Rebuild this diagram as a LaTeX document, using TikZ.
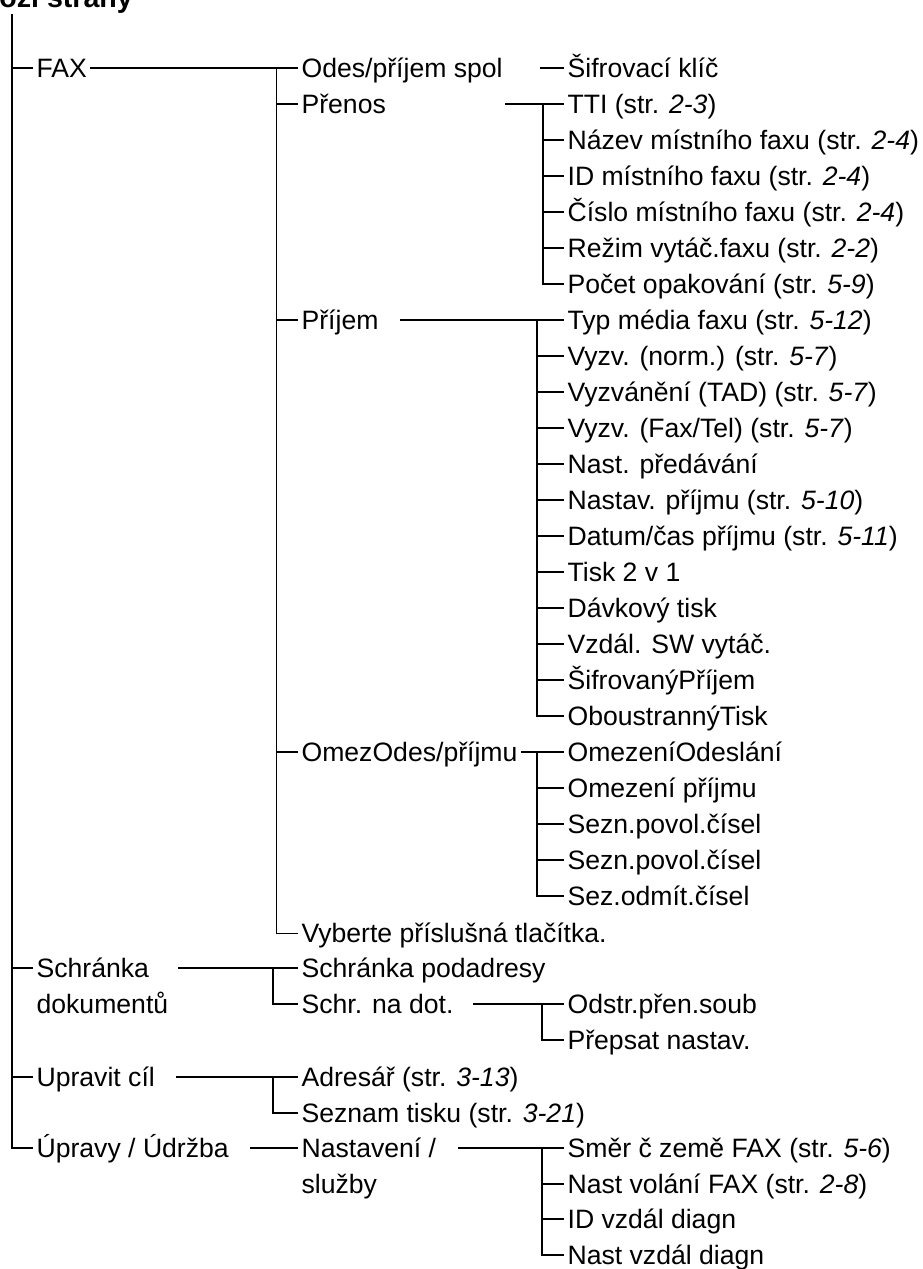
\documentclass[tikz,border=0pt]{standalone}
\usepackage{fontspec}
\setmainfont{Liberation Sans}
\tikzset{
  entry/.style={anchor=west, inner xsep=1.6pt, inner ysep=0pt,
    text height=9.5pt, text depth=0pt, font=\fontsize{13.3}{15.5}\selectfont},
  branch/.style={line width=1pt},
  twig/.style={line width=0.5pt},
}
\begin{document}
\begin{tikzpicture}[x=0.5pt,y=-0.5pt]
    \useasboundingbox (0,0) rectangle (922,1269);
    \clip (0,0) rectangle (922,1269);
    \node[anchor=base west, inner sep=0pt, font=\fontsize{14.3}{17}\selectfont\bfseries] (title) at (-1,8) {ozi strany};
    % first level
    \node[entry] (fax) at (33,68) {FAX};
    \node[entry] (schr) at (33,968) {Schránka};
    \node[entry] (dok) at (33,1004) {dokumentů};
    \node[entry] (upravit) at (33,1077) {Upravit cíl};
    \node[entry] (upravy) at (33,1148) {Úpravy / Údržba};
    \coordinate (root) at (12,14);
    \foreach \n in {fax,schr,upravit,upravy}
        \draw[branch] (root) |- (\n.west);
    % FAX
    \node[entry] (odes) at (298,68) {Odes/příjem spol};
    \node[entry] (prenos) at (298,104) {Přenos};
    \node[entry] (prijem) at (298,320) {Příjem};
    \node[entry] (omez) at (298,752) {OmezOdes/příjmu};
    \node[entry] (vyberte) at (298,933) {Vyberte příslušná tlačítka.};
    \draw[branch] (fax.east) -- (odes.west);
    \coordinate (faxj) at (276,68);
    \draw[twig] (faxj) |- (vyberte.west);
    \foreach \n in {prenos,prijem,omez}
        \draw[branch] (faxj |- \n.west) -- (\n.west);
    \node[entry] (sifr) at (564,68) {Šifrovací klíč};
    \coordinate (sifrs) at (540,68);
    \draw[branch] (sifrs) -- (sifr.west);
    % Prenos
    \foreach \t [count=\i from 0] in {TTI (str. \textit{2-3}), Název místního faxu (str. \textit{2-4}),
        ID místního faxu (str. \textit{2-4}), Číslo místního faxu (str. \textit{2-4}),
        Režim vytáč.faxu (str. \textit{2-2}), Počet opakování (str. \textit{5-9})}
        \node[entry] (pren\i) at (564,104+36*\i) {\t};
    \coordinate (prens) at (505,104);
    \coordinate (prenj) at (543,104);
    \draw[branch] (prens) -- (pren0.west);
    \foreach \i in {1,...,5}
        \draw[branch] (prenj) |- (pren\i.west);
    % Prijem
    \foreach \t [count=\i from 0] in {Typ média faxu (str. \textit{5-12}), Vyzv. (norm.) (str. \textit{5-7}),
        Vyzvánění (TAD) (str. \textit{5-7}), Vyzv. (Fax/Tel) (str. \textit{5-7}), Nast. předávání,
        Nastav. příjmu (str. \textit{5-10}), Datum/čas příjmu (str. \textit{5-11}), Tisk 2 v 1,
        Dávkový tisk, Vzdál. SW vytáč., ŠifrovanýPříjem, OboustrannýTisk}
        \node[entry] (prij\i) at (564,320+36*\i) {\t};
    \coordinate (prijs) at (400,320);
    \coordinate (prijj) at (537,320);
    \draw[branch] (prijs) -- (prij0.west);
    \foreach \i in {1,...,11}
        \draw[branch] (prijj) |- (prij\i.west);
    % OmezOdes
    \foreach \t [count=\i from 0] in {OmezeníOdeslání, Omezení příjmu, Sezn.povol.čísel,
        Sezn.povol.čísel, Sez.odmít.čísel}
        \node[entry] (omez\i) at (564,752+36*\i) {\t};
    \coordinate (omezj) at (537,752);
    \draw[branch] (omez.east) -- (omez0.west);
    \foreach \i in {1,...,4}
        \draw[branch] (omezj) |- (omez\i.west);
    % Schranka
    \node[entry] (podadr) at (298,968) {Schránka podadresy};
    \node[entry] (schrdot) at (298,1004) {Schr. na dot.};
    \coordinate (schrs) at (178,968);
    \coordinate (schrj) at (273,968);
    \draw[branch] (schrs) -- (podadr.west);
    \draw[branch] (schrj) |- (schrdot.west);
    \node[entry] (odstr) at (564,1004) {Odstr.přen.soub};
    \node[entry] (prepsat) at (564,1040) {Přepsat nastav.};
    \coordinate (dots) at (473,1004);
    \coordinate (dotj) at (542,1004);
    \draw[branch] (dots) -- (odstr.west);
    \draw[branch] (dotj) |- (prepsat.west);
    % Upravit cil
    \node[entry] (adresar) at (298,1077) {Adresář (str. \textit{3-13})};
    \node[entry] (seznam) at (298,1113) {Seznam tisku (str. \textit{3-21})};
    \coordinate (upravits) at (176,1077);
    \coordinate (upravitj) at (273,1077);
    \draw[branch] (upravits) -- (adresar.west);
    \draw[branch] (upravitj) |- (seznam.west);
    % Upravy / Udrzba
    \node[entry] (nastav) at (298,1148) {Nastavení /};
    \node[entry] (sluzby) at (298,1184) {služby};
    \coordinate (upravys) at (250,1148);
    \draw[branch] (upravys) -- (nastav.west);
    \foreach \t [count=\i from 0] in {Směr č země FAX (str. \textit{5-6}), Nast volání FAX (str. \textit{2-8}),
        ID vzdál diagn, Nast vzdál diagn}
        \node[entry] (serv\i) at (564,1148+35.5*\i) {\t};
    \coordinate (servs) at (458,1148);
    \coordinate (servj) at (542,1148);
    \draw[branch] (servs) -- (serv0.west);
    \foreach \i in {1,...,3}
        \draw[branch] (servj) |- (serv\i.west);
\end{tikzpicture}
\end{document}
